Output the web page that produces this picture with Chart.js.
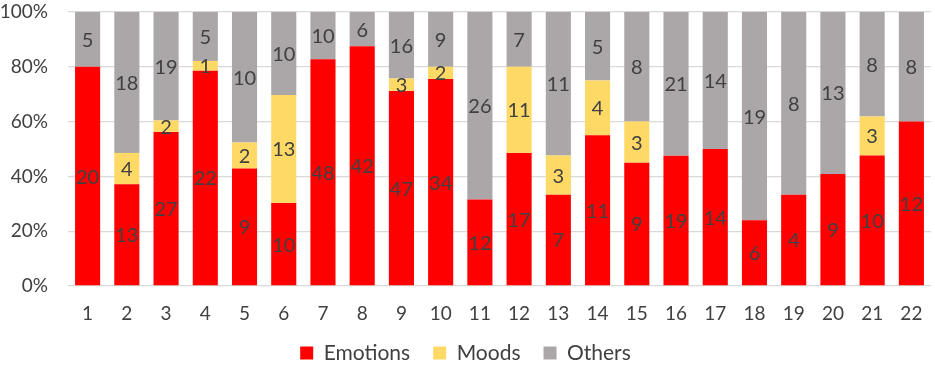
<!DOCTYPE html>
<html>
<head>
<meta charset="utf-8">
<script src="https://cdn.jsdelivr.net/npm/chart.js@4"></script>
<style>
html,body{margin:0;padding:0;background:#fff;overflow:hidden;}
#wrap{width:935px;height:365px;position:relative;}
</style>
</head>
<body>
<div id="wrap"><canvas id="c" width="935" height="365"></canvas></div>
<script>
const categories = ["1","2","3","4","5","6","7","8","9","10","11","12","13","14","15","16","17","18","19","20","21","22"];
const emotions = [20,13,27,22,9,10,48,42,47,34,12,17,7,11,9,19,14,6,4,9,10,12];
const moods    = [0,4,2,1,2,13,0,0,3,2,0,11,3,4,3,0,0,0,0,0,3,0];
const others   = [5,18,19,5,10,10,10,6,16,9,26,7,11,5,8,21,14,19,8,13,8,8];
const seriesNames = ["Emotions","Moods","Others"];
const yTicks = [0,20,40,60,80,100];

const counts = [emotions, moods, others];
const totals = categories.map((_, i) => emotions[i] + moods[i] + others[i]);
const pct = arr => arr.map((v, i) => v / totals[i] * 100);
const colors = ["#FF0000", "#FFD966", "#ABA7A8"];
const FONT = "Lato, 'Open Sans', sans-serif";

const labelPlugin = {
  id: 'segLabels',
  afterDatasetsDraw(chart) {
    const ctx = chart.ctx;
    ctx.save();
    ctx.font = "20px " + FONT;
    ctx.fillStyle = "#404040";
    ctx.textAlign = "center";
    ctx.textBaseline = "middle";
    chart.data.datasets.forEach((ds, di) => {
      const meta = chart.getDatasetMeta(di);
      meta.data.forEach((el, i) => {
        const c = counts[di][i];
        if (!c) return;
        ctx.fillText(String(c), el.x, (el.y + el.base) / 2 + 1);
      });
    });
    ctx.restore();
  }
};

// shrink the legend box a little so its row sits nearer the bottom edge,
// and let the category labels draw past their (tight) axis box
const layoutTweakPlugin = {
  id: 'layoutTweak',
  beforeLayout(chart) {
    const lg = chart.legend;
    if (lg && !lg._patched) {
      const proto = Object.getPrototypeOf(lg);
      lg.fit = function () { proto.fit.call(this); this.height = Math.max(0, this.height - 8.5); };
      lg._patched = true;
    }
    const xs = chart.scales && chart.scales.x;
    if (xs) { xs._computeLabelArea = function () { return undefined; }; }
  }
};

new Chart(document.getElementById('c'), {
  type: 'bar',
  data: {
    labels: categories,
    datasets: counts.map((arr, k) => ({
      label: seriesNames[k],
      data: pct(arr),
      backgroundColor: colors[k],
      borderWidth: 0,
      barPercentage: 0.64,
      categoryPercentage: 1.0
    }))
  },
  options: {
    responsive: false,
    animation: false,
    layout: { padding: { left: 0, right: 4, top: 0, bottom: 0 } },
    plugins: {
      tooltip: { enabled: false },
      legend: {
        position: 'bottom',
        labels: {
          boxWidth: 13, boxHeight: 13,
          color: "#404040",
          font: { family: FONT, size: 21 },
          padding: 23
        }
      }
    },
    scales: {
      x: {
        stacked: true,
        grid: { display: false },
        border: { display: false },
        ticks: { color: "#404040", font: { family: FONT, size: 19 }, padding: 8, maxRotation: 0, autoSkip: false },
        afterFit: s => { s.height = 33.5; s.paddingLeft = 0; s.paddingRight = 0; }
      },
      y: {
        stacked: true,
        min: 0, max: 100,
        afterBuildTicks: (s) => { s.ticks = yTicks.map(v => ({ value: v })); },
        grid: { color: "#D9D9D9", lineWidth: 1.3, drawTicks: false },
        border: { display: false },
        ticks: { color: "#404040", font: { family: FONT, size: 19 }, padding: 20, callback: v => v + "%" },
        afterFit: s => { s.width = 68; s.paddingTop = 12; s.paddingBottom = 0; }
      }
    }
  },
  plugins: [labelPlugin, layoutTweakPlugin]
});
</script>
</body>
</html>
